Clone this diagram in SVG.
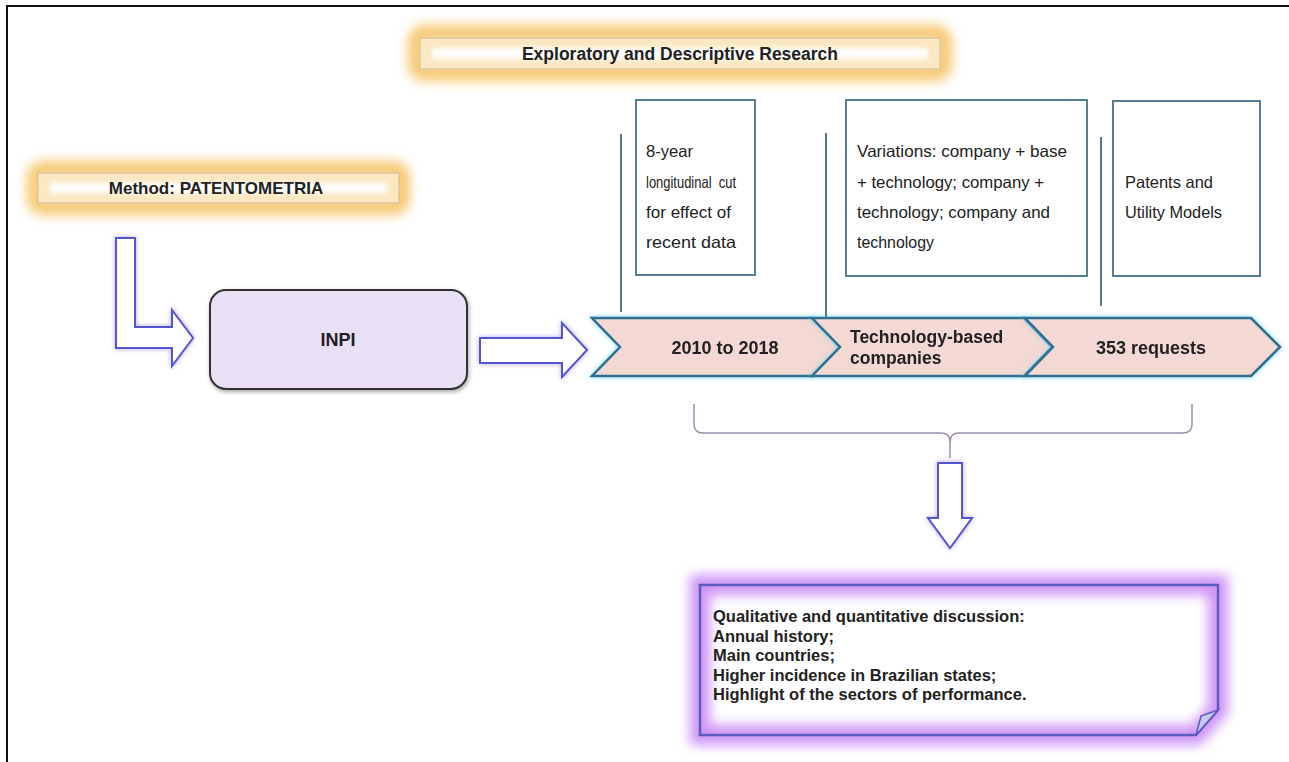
<svg xmlns="http://www.w3.org/2000/svg" width="1289" height="762" viewBox="0 0 1289 762">
<defs>
<filter id="blur6" x="-20%" y="-80%" width="140%" height="260%"><feGaussianBlur stdDeviation="6"/></filter>
<filter id="blur2" x="-20%" y="-80%" width="140%" height="260%"><feGaussianBlur stdDeviation="2.5"/></filter>
<filter id="glowP" x="-30%" y="-30%" width="160%" height="160%">
<feGaussianBlur in="SourceAlpha" stdDeviation="2.5" result="b"/>
<feFlood flood-color="#a890ff" flood-opacity="0.8"/>
<feComposite in2="b" operator="in" result="g"/>
<feMerge><feMergeNode in="g"/><feMergeNode in="SourceGraphic"/></feMerge>
</filter>
<filter id="glowC" x="-10%" y="-30%" width="120%" height="160%">
<feGaussianBlur in="SourceAlpha" stdDeviation="2.5" result="b"/>
<feFlood flood-color="#5fd0f0" flood-opacity="0.8"/>
<feComposite in2="b" operator="in" result="g"/>
<feMerge><feMergeNode in="g"/><feMergeNode in="SourceGraphic"/></feMerge>
</filter>
<filter id="glowBig" x="-10%" y="-20%" width="120%" height="140%"><feGaussianBlur stdDeviation="6"/></filter>
<filter id="shadow" x="-10%" y="-10%" width="120%" height="130%">
<feGaussianBlur in="SourceAlpha" stdDeviation="2" result="b"/>
<feOffset dx="1" dy="2" in="b" result="o"/>
<feFlood flood-color="#000" flood-opacity="0.35"/>
<feComposite in2="o" operator="in" result="s"/>
<feMerge><feMergeNode in="s"/><feMergeNode in="SourceGraphic"/></feMerge>
</filter>
<clipPath id="resClip"><path d="M700,585 H1218 V710 L1196,735 H700 Z"/></clipPath>
<style>
text{font-family:"Liberation Sans",Arial,sans-serif;fill:#222;}
.b{font-weight:bold;}
.t{font-size:16.5px;}
.box{fill:#fff;stroke:#557f92;stroke-width:2;}
.vline{stroke:#4f7b8e;stroke-width:2;}
.chev{fill:#f3d8d3;stroke:#2f6f92;stroke-width:2.5;stroke-linejoin:miter;}
.arr{fill:#fff;stroke:#5557cf;stroke-width:2;stroke-linejoin:miter;}
.oglow{fill:none;stroke:#f6c870;stroke-width:16;}
.oin{fill:#fbe7c2;stroke:#cdbb98;stroke-width:1;}
</style>
</defs>
<rect width="1289" height="762" fill="#fff"/>
<g id="frame"><path d="M7,762 V6 H1289" fill="none" stroke="#111" stroke-width="2"/></g>

<g id="title">
<rect class="oglow" x="416" y="33" width="528" height="40" rx="8" filter="url(#blur6)"/>
<rect class="oin" x="420" y="38" width="520" height="31"/>
<rect x="432" y="48" width="496" height="11" fill="#fff" filter="url(#blur2)"/>
<text class="b" x="680" y="60" font-size="17.5" text-anchor="middle">Exploratory and Descriptive Research</text>
</g>

<g id="method">
<rect class="oglow" x="35" y="169" width="367" height="38" rx="8" filter="url(#blur6)"/>
<rect class="oin" x="38" y="173" width="361" height="30"/>
<rect x="50" y="183" width="337" height="10" fill="#fff" filter="url(#blur2)"/>
<text class="b" x="216" y="194" font-size="17" text-anchor="middle">Method: PATENTOMETRIA</text>
</g>

<g id="inpi">
<rect x="210" y="290" width="257" height="99" rx="16" fill="#e9e0f6" stroke="#333" stroke-width="2" filter="url(#shadow)"/>
<text class="b" x="338" y="346" font-size="18" text-anchor="middle">INPI</text>
</g>

<g id="box1">
<rect class="box" x="636" y="100" width="119" height="175"/>
<text class="t" x="646" y="157" textLength="47" lengthAdjust="spacingAndGlyphs">8-year</text>
<text class="t" x="646" y="188" textLength="90" lengthAdjust="spacingAndGlyphs" xml:space="preserve">longitudinal  cut</text>
<text class="t" x="646" y="218" textLength="85" lengthAdjust="spacingAndGlyphs">for effect of</text>
<text class="t" x="646" y="248" textLength="90" lengthAdjust="spacingAndGlyphs">recent data</text>
</g>
<g id="box2">
<rect class="box" x="846" y="100" width="241" height="176"/>
<text class="t" x="857" y="157" textLength="210" lengthAdjust="spacingAndGlyphs">Variations: company + base</text>
<text class="t" x="857" y="188" textLength="187" lengthAdjust="spacingAndGlyphs">+ technology; company +</text>
<text class="t" x="857" y="218" textLength="193" lengthAdjust="spacingAndGlyphs">technology; company and</text>
<text class="t" x="857" y="248" textLength="77" lengthAdjust="spacingAndGlyphs">technology</text>
</g>
<g id="box3">
<rect class="box" x="1113" y="101" width="147" height="175"/>
<text class="t" x="1125" y="188" textLength="88" lengthAdjust="spacingAndGlyphs">Patents and</text>
<text class="t" x="1125" y="218" textLength="97" lengthAdjust="spacingAndGlyphs">Utility Models</text>
</g>

<g id="chevron1" filter="url(#glowC)">
<path class="chev" d="M592,318 H812 L840,347 L812,376 H592 L620,347 Z"/>
<text class="b" x="725" y="354" font-size="18" text-anchor="middle">2010 to 2018</text>
</g>
<g id="chevron2" filter="url(#glowC)">
<path class="chev" d="M812,318 H1024 L1052,347 L1024,376 H812 L840,347 Z"/>
<text class="b" x="850" y="343" font-size="17.5">Technology-based</text>
<text class="b" x="850" y="364" font-size="17.5">companies</text>
</g>
<g id="chevron3" filter="url(#glowC)">
<path class="chev" d="M1025,318 H1251 L1280,347 L1251,376 H1025 L1053,347 Z"/>
<text class="b" x="1151" y="354" font-size="18" text-anchor="middle">353 requests</text>
</g>

<g id="result">
<path d="M700,585 H1218 V710 L1196,735 H700 Z" fill="#fff"/>
<path d="M700,585 H1218 V710 L1196,735 H700 Z" fill="none" stroke="#cf94f6" stroke-width="20" filter="url(#glowBig)"/>
<path d="M700,585 H1218 V710 L1196,735 H700 Z" fill="none" stroke="#5b5bc0" stroke-width="2.5"/>
<path d="M1196,735 L1201,716 L1218,710 Z" fill="#c8c8f0" stroke="#5b5bc0" stroke-width="1.5"/>
<text class="b" x="713" y="622" font-size="16.5">Qualitative and quantitative discussion:</text>
<text class="b" x="713" y="642" font-size="16.5">Annual history;</text>
<text class="b" x="713" y="661" font-size="16.5">Main countries;</text>
<text class="b" x="713" y="681" font-size="16.5">Higher incidence in Brazilian states;</text>
<text class="b" x="713" y="700" font-size="16.5">Highlight of the sectors of performance.</text>
</g>

<g id="connectors">
<line class="vline" x1="621" y1="134" x2="621" y2="312"/>
<line class="vline" x1="826" y1="133" x2="826" y2="318"/>
<line class="vline" x1="1101" y1="137" x2="1101" y2="306"/>
<path class="arr" filter="url(#glowP)" d="M116,238 H135 V327 H172 V310 L193,338 L172,366 V348 H116 Z"/>
<path class="arr" filter="url(#glowP)" d="M480,338 H562 V323 L587,350 L562,377 V363 H480 Z"/>
<path d="M694,404 V424 Q694,433 703,433 H941 Q950,433 950,442 V458 M950,442 Q950,433 959,433 H1183 Q1192,433 1192,424 V404" fill="none" stroke="#9e8fae" stroke-width="1.5"/>
<path class="arr" filter="url(#glowP)" d="M938,463 H962 V518 H972 L950,548 L928,518 H938 Z"/>
</g>
</svg>
